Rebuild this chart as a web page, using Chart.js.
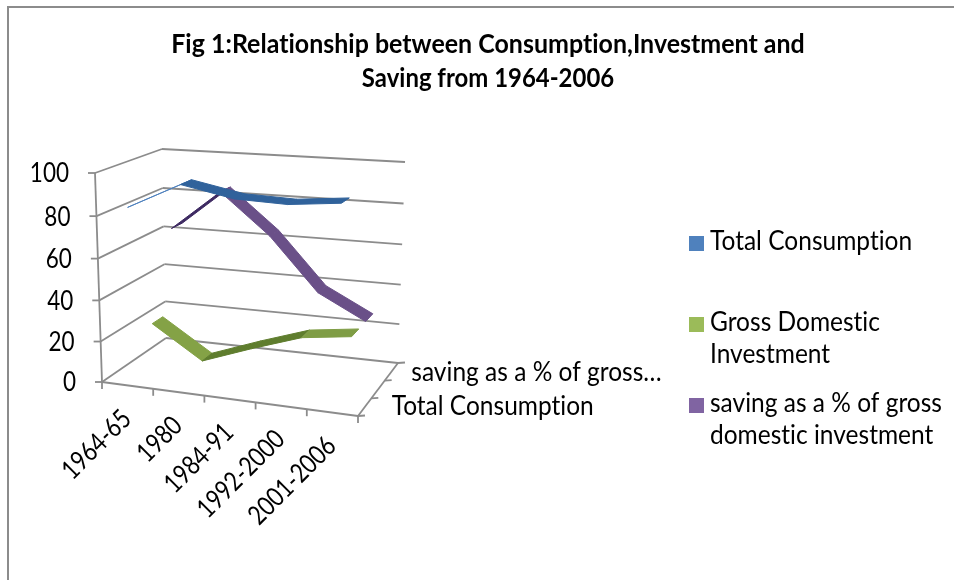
<!DOCTYPE html>
<html>
<head>
<meta charset="utf-8">
<title>Fig 1</title>
<script src="https://cdn.jsdelivr.net/npm/chart.js@4"></script>
<style>
  html, body { margin: 0; padding: 0; background: #fff; }
  #wrap { position: absolute; left: 0; top: 0; width: 954px; height: 580px; }
</style>
</head>
<body>
<div id="wrap"><canvas id="chart" width="954" height="580"></canvas></div>
<script>
// Chart content
const titleLines = ['Fig 1:Relationship between Consumption,Investment and', 'Saving from 1964-2006'];
const periods = ['1964-65', '1980', '1984-91', '1992-2000', '2001-2006'];
const seriesAxisLabels = ['Total Consumption', 'Gross Domestic Investment', 'saving as a % of gross domestic investment'];

const totalConsumption = [84, 96, 91, 90, 92];
const grossDomesticInvestment = [22, 6, 15, 23, 26];
const savingShare = [64, 84, 64, 38, 26];

const legendLines = [['Total Consumption'], ['Gross Domestic', 'Investment'], ['saving as a % of gross', 'domestic investment']];

// Colours
const GRID = '#8c8c8c';
const INK = '#000000';
const swatches = ['#4f81bd', '#9bbb59', '#8064a2'];
const consumptionShades = ['#4f81bd', '#30629b', '#30629b', '#30629b'];
const investmentShades = ['#84a246', '#5f7d2e', '#5f7d2e', '#7f9d45'];
const savingShades = ['#3e2a62', '#6a5088', '#6a5088', '#6a5088'];

// Oblique box the plot lives in: corners on the canvas for (x, depth, height).
const box = {
  floor: { fl: [102, 382], bl: [166, 338], br: [398, 363], fr: [358, 416] },
  roof:  { fl: [95, 173],  bl: [162, 149], br: [405, 162], fr: [366, 188] }
};
const lerp = (a, b, t) => a + (b - a) * t;
function project(u, v, w) {
  // Heights stretch slightly towards the top of the box, as in a perspective view.
  const h = w - 0.04 * w * (1 - w);
  const at = (i) => {
    const f = lerp(lerp(box.floor.fl[i], box.floor.fr[i], u), lerp(box.floor.bl[i], box.floor.br[i], u), v);
    const r = lerp(lerp(box.roof.fl[i], box.roof.fr[i], u), lerp(box.roof.bl[i], box.roof.br[i], u), v);
    return lerp(f, r, h);
  };
  return [at(0), at(1)];
}
const decimal = (scale, value) => scale.getDecimalForPixel(scale.getPixelForValue(value));

// Text helper: Lato, narrowed horizontally to the face the chart is set in.
function text(ctx, str, x, y, opts) {
  const o = Object.assign({ size: 27, weight: '400', align: 'left', squeeze: 0.907, rotate: 0 }, opts);
  ctx.save();
  ctx.translate(x, y);
  if (o.rotate) ctx.rotate(o.rotate);
  ctx.scale(o.squeeze, 1);
  ctx.font = o.weight + ' ' + o.size + 'px Lato';
  ctx.letterSpacing = '0.01px';
  ctx.fillStyle = INK;
  ctx.textAlign = o.align;
  ctx.textBaseline = 'middle';
  ctx.fillText(str, 0, 0);
  ctx.restore();
}

// A line series drawn as a flat ribbon lying across one slot of the depth axis.
class RibbonController extends Chart.LineController {
  draw() {
    const meta = this.getMeta();
    const ds = this.getDataset();
    const ctx = this.chart.ctx;
    const vc = decimal(this.chart.scales.z, this.index);
    const half = ds.ribbonDepth / 2;
    const pts = meta.data.map((p) => ({
      u: meta.xScale.getDecimalForPixel(p.x),
      w: meta.yScale.getDecimalForPixel(p.y)
    }));
    ctx.save();
    ctx.lineJoin = 'round';
    for (let i = 0; i < pts.length - 1; i++) {
      const a = pts[i], b = pts[i + 1];
      const quad = [
        project(a.u, vc - half, a.w), project(b.u, vc - half, b.w),
        project(b.u, vc + half, b.w), project(a.u, vc + half, a.w)
      ];
      ctx.beginPath();
      quad.forEach((q, k) => (k ? ctx.lineTo(q[0], q[1]) : ctx.moveTo(q[0], q[1])));
      ctx.closePath();
      ctx.fillStyle = ds.shades[i];
      ctx.strokeStyle = ds.shades[i];
      ctx.lineWidth = 1;
      ctx.fill();
      ctx.stroke();
    }
    ctx.restore();
  }
}
RibbonController.id = 'ribbon';
RibbonController.defaults = Chart.LineController.defaults;
RibbonController.overrides = Chart.LineController.overrides;
Chart.register(RibbonController);

function segment(ctx, p, q) {
  ctx.beginPath();
  ctx.moveTo(p[0], p[1]);
  ctx.lineTo(q[0], q[1]);
  ctx.stroke();
}

// Page frame, title, box walls, axes and their labels.
const framePlugin = {
  id: 'frame',
  beforeDatasetsDraw(chart) {
    const ctx = chart.ctx;
    const { x: xs, y: ys, z: zs } = chart.scales;

    ctx.save();
    ctx.strokeStyle = GRID;
    ctx.lineWidth = 2;
    ctx.beginPath();
    ctx.moveTo(8, 580);
    ctx.lineTo(8, 7);
    ctx.lineTo(954, 7);
    ctx.stroke();

    ctx.lineWidth = 1.8;
    ys.ticks.forEach((t) => {
      const w = decimal(ys, t.value);
      segment(ctx, project(0, 0, w), project(0, 1, w));
      segment(ctx, project(0, 1, w), project(1, 1, w));
      const p = project(0, 0, w);
      segment(ctx, [p[0] - 7, p[1]], p);
      text(ctx, String(t.value), p[0] - 26, p[1] + 1, { align: 'right', size: 26, squeeze: 0.865 });
    });
    segment(ctx, project(0, 0, 0), project(0, 0, 1));
    segment(ctx, project(0, 0, 0), project(1, 0, 0));
    segment(ctx, project(1, 0, 0), project(1, 1, 0));

    for (let i = 0; i <= periods.length; i++) {
      const p = project(i / periods.length, 0, 0);
      segment(ctx, p, [p[0], p[1] + 7]);
    }
    periods.forEach((label, i) => {
      const p = project(decimal(xs, i), 0, 0);
      text(ctx, label, p[0] - 1, p[1] + 29, { align: 'right', rotate: -Math.PI / 4, squeeze: 0.82 });
    });

    for (let i = 0; i <= seriesAxisLabels.length; i++) {
      const p = project(1, i / seriesAxisLabels.length, 0);
      segment(ctx, p, [p[0] + 7, p[1] - 0.5]);
    }
    const near = project(1, decimal(zs, 0), 0);
    const far = project(1, decimal(zs, 2), 0);
    text(ctx, seriesAxisLabels[0], near[0] + 27, near[1] - 1);
    text(ctx, 'saving as a % of gross\u2026', far[0] + 20, far[1]);

    [0.96, 0.92].forEach((squeeze, i) => {
      text(ctx, titleLines[i], 488, 45 + i * 34, { size: 26, weight: '700', align: 'center', squeeze });
    });

    // Legend
    const rows = [241, 322, 403];
    legendLines.forEach((lines, i) => {
      ctx.fillStyle = swatches[i];
      ctx.fillRect(689, rows[i] - 5, 15, 15);
      lines.forEach((line, k) => text(ctx, line, 710, rows[i] + k * 32));
    });
    ctx.restore();
  }
};

new Chart(document.getElementById('chart'), {
  type: 'ribbon',
  data: {
    labels: periods,
    datasets: [
      { label: seriesAxisLabels[0], data: totalConsumption, shades: consumptionShades, ribbonDepth: 0.19 },
      { label: seriesAxisLabels[1], data: grossDomesticInvestment, shades: investmentShades, ribbonDepth: 0.17 },
      { label: seriesAxisLabels[2], data: savingShare, shades: savingShades, ribbonDepth: 0.17 }
    ]
  },
  options: {
    responsive: false,
    animation: false,
    layout: { padding: 0 },
    scales: {
      x: { type: 'category', offset: true, display: false },
      y: { type: 'linear', min: 0, max: 100, ticks: { stepSize: 20 }, display: false },
      z: { type: 'category', axis: 'x', position: 'bottom', labels: seriesAxisLabels, offset: true, display: false }
    },
    plugins: { legend: { display: false }, title: { display: false }, tooltip: { enabled: false } }
  },
  plugins: [framePlugin]
});
</script>
</body>
</html>
